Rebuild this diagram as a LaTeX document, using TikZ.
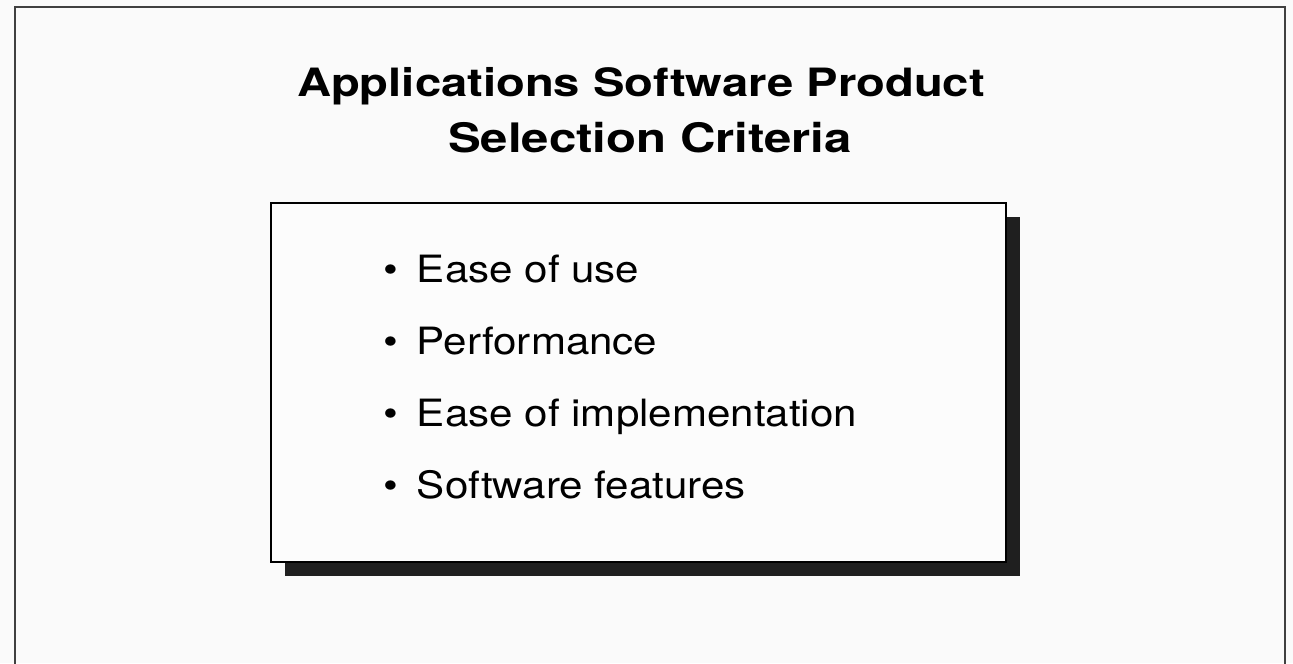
\documentclass[tikz,border=0pt]{standalone}
\usepackage{fontspec}
\setmainfont{TeX Gyre Heros}
\newfontfamily\titlefont[FakeStretch=1.21]{TeX Gyre Heros}
\newfontfamily\itemfont[FakeStretch=1.12]{TeX Gyre Heros}
\newcommand{\itembul}{\textbullet\hspace{9.4pt}}
\begin{document}
\begin{tikzpicture}[x=0.5pt,y=-0.5pt]
\useasboundingbox (0,0) rectangle (1293,663);
\fill[black!2] (0,0) rectangle (1293,663);

\coordinate (F1) at (15,670);
\coordinate (F2) at (15,7);
\coordinate (F3) at (1285,7);
\coordinate (F4) at (1285,670);

\coordinate (A) at (271,203);
\coordinate (B) at (1006,562);
\coordinate (As) at (285,217);
\coordinate (Bs) at (1020,576);

\draw[line width=0.8pt, black!75] (F1)--(F2)--(F3)--(F4);

\fill[black!88] (As) rectangle (Bs);
\filldraw[fill=black!1, line width=1.1pt] (A) rectangle (B);

\node[font=\titlefont\bfseries\fontsize{19.5}{24}\selectfont, anchor=base] (t1) at (641,97) {Applications Software Product};
\node[font=\titlefont\bfseries\fontsize{20.3}{24}\selectfont, anchor=base] (t2) at (650,153) {Selection Criteria};

\node[font=\itemfont\fontsize{18.8}{22}\selectfont, anchor=base west, inner sep=0pt] (i1) at (383,282) {\itembul Ease of use};
\node[font=\itemfont\fontsize{18.8}{22}\selectfont, anchor=base west, inner sep=0pt] (i2) at (383,354) {\itembul Performance};
\node[font=\itemfont\fontsize{18.8}{22}\selectfont, anchor=base west, inner sep=0pt] (i3) at (383,426) {\itembul Ease of implementation};
\node[font=\itemfont\fontsize{18.8}{22}\selectfont, anchor=base west, inner sep=0pt] (i4) at (383,498) {\itembul Software features};
\end{tikzpicture}
\end{document}
